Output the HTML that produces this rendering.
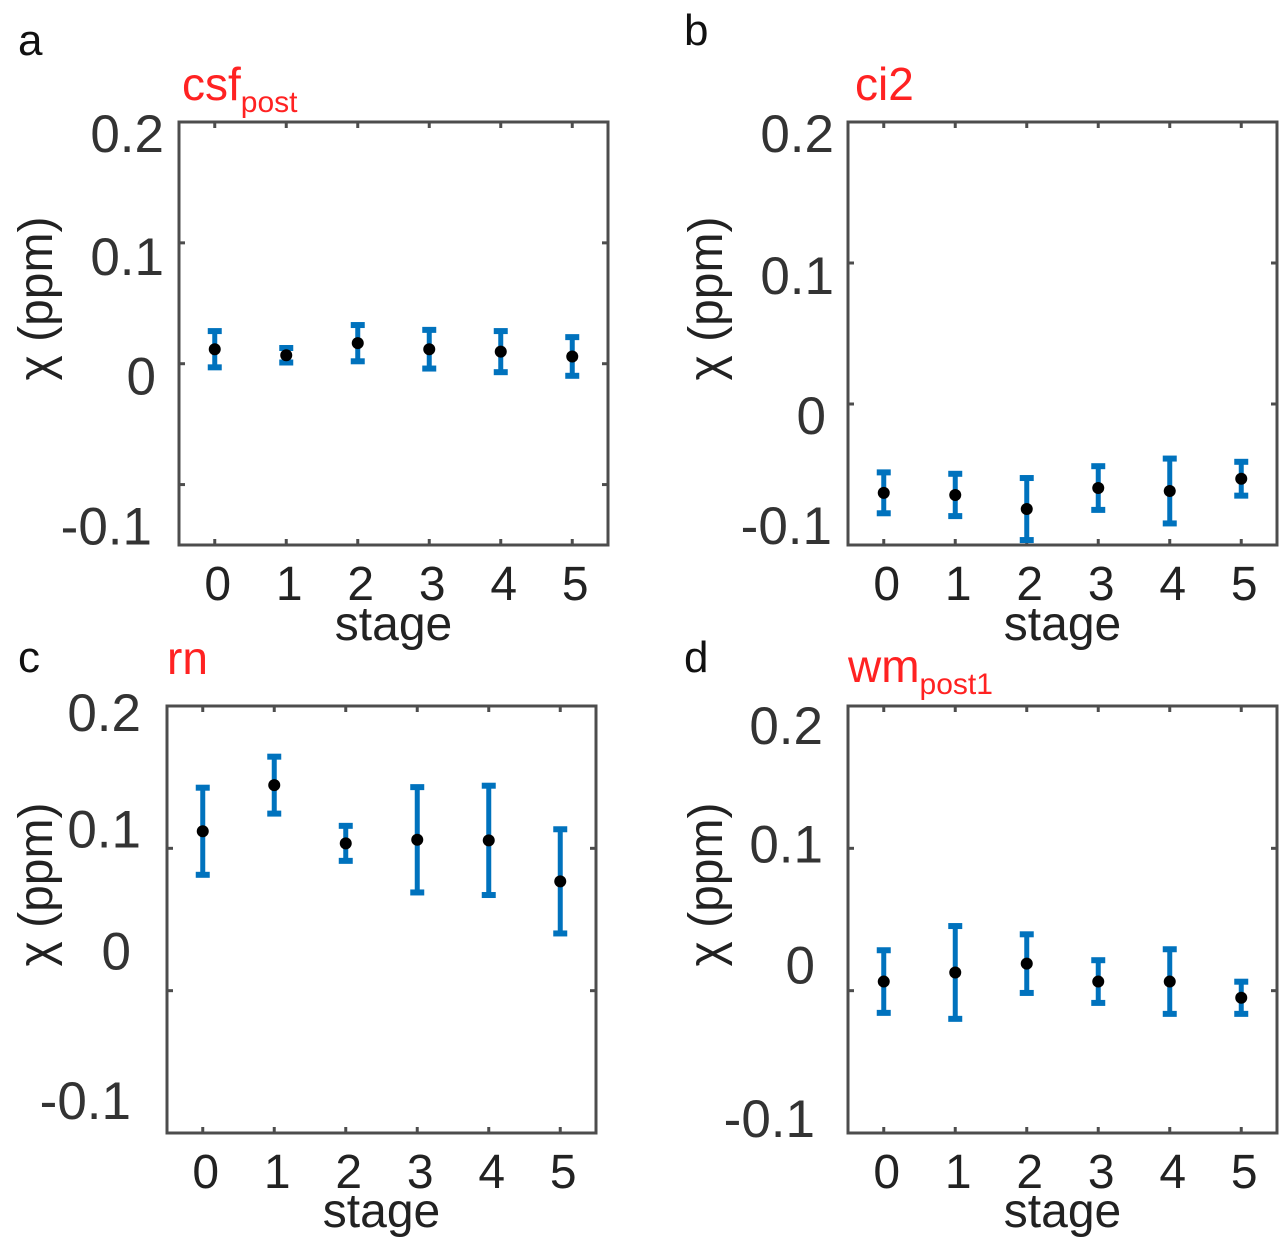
<!DOCTYPE html>
<html><head><meta charset="utf-8"><style>
html,body{margin:0;padding:0;background:#fff;width:1280px;height:1243px;overflow:hidden}
svg{font-family:"Liberation Sans",sans-serif}
</style></head><body>
<svg id="fig" width="1280" height="1243" viewBox="0 0 1280 1243"></svg>
<script>
const stages = [0,1,2,3,4,5];
const tickLabels = ["0.2","0.1","0","-0.1"];
const tickValues = [0.2,0.1,0,-0.1];
const meanA = [0.012,0.007,0.017,0.012,0.010,0.006];
const errA  = [0.015,0.006,0.015,0.016,0.017,0.016];
const meanB = [-0.063,-0.0645,-0.0745,-0.0596,-0.0617,-0.053];
const errB  = [0.0145,0.015,0.022,0.0155,0.023,0.012];
const meanC = [0.112,0.1444,0.1035,0.106,0.1056,0.0768];
const errC  = [0.0306,0.020,0.0123,0.037,0.0384,0.0366];
const meanD = [0.0064,0.0128,0.019,0.0064,0.0064,-0.005];
const errD  = [0.022,0.0326,0.0206,0.015,0.0227,0.0113];

const NS="http://www.w3.org/2000/svg";
const svg=document.getElementById('fig');
function mk(tag,attrs,parent){const e=document.createElementNS(NS,tag);for(const k in attrs)e.setAttribute(k,attrs[k]);(parent||svg).appendChild(e);return e;}

const panels=[
 {id:'a',letter:'a',lx:18,ly:55,title:'csf',sub:'post',tx:182,ty:100,x0:179,x1:608,y0:122,y1:545,ymin:-0.15,ymax:0.2,mean:meanA,err:errA,ylabX:38,lblX:164,lblDy:[11,13,12,41],lblDx:[0,0,-8,-12],stageY:640},
 {id:'b',letter:'b',lx:684,ly:45,title:'ci2',sub:'',tx:855,ty:100,x0:848,x1:1277,y0:122,y1:545,ymin:-0.1,ymax:0.2,mean:meanB,err:errB,ylabX:708,lblX:834,lblDy:[11,12,11,-20],lblDx:[0,0,-8,-2],stageY:640},
 {id:'c',letter:'c',lx:18,ly:672,title:'rn',sub:'',tx:167,ty:674,x0:167,x1:596,y0:706,y1:1133,ymin:-0.1,ymax:0.2,mean:meanC,err:errC,ylabX:38,lblX:141,lblDy:[6,-20,-40,-33],lblDx:[0,0,-10,-10],stageY:1227},
 {id:'d',letter:'d',lx:684,ly:672,title:'wm',sub:'post1',tx:848,ty:682,x0:848,x1:1277,y0:706,y1:1133,ymin:-0.1,ymax:0.2,mean:meanD,err:errD,ylabX:708,lblX:823,lblDy:[19,-5,-26,-15],lblDx:[0,0,-8,-8],stageY:1227}
];

panels.forEach(p=>{
 const g=mk('g',{});
 
 
 const xs=v=>p.x0+(v+0.5)/6*(p.x1-p.x0);
 const ys=v=>p.y1-(v-p.ymin)/(p.ymax-p.ymin)*(p.y1-p.y0);
 const L=mk('text',{x:p.lx,y:p.ly,'font-size':44,fill:'#111'},g);L.textContent=p.letter;
 
 const T=mk('text',{x:p.tx,y:p.ty,'font-size':46,fill:'#f22'},g);
 
 T.textContent=p.title;
 if(p.sub){const s=mk('tspan',{'font-size':30,dy:12},T);s.textContent=p.sub;}
 tickValues.forEach((v,i)=>{
  if(v<p.ymin-1e-9||v>p.ymax+1e-9)return;
  const y=ys(v);
  mk('line',{x1:p.x0,x2:p.x0+6,y1:y,y2:y,stroke:'#4d4d4d','stroke-width':3},g);
  mk('line',{x1:p.x1,x2:p.x1-6,y1:y,y2:y,stroke:'#4d4d4d','stroke-width':3},g);
  const t=mk('text',{x:p.lblX+p.lblDx[i],y:y+p.lblDy[i]+19,'font-size':53,fill:'#333','text-anchor':'end'},g);
  
  t.textContent=tickLabels[i];
 });
 stages.forEach(s=>{
  const x=xs(s);
  mk('line',{x1:x,x2:x,y1:p.y1,y2:p.y1-6,stroke:'#4d4d4d','stroke-width':3},g);
  mk('line',{x1:x,x2:x,y1:p.y0,y2:p.y0+6,stroke:'#4d4d4d','stroke-width':3},g);
  const t=mk('text',{x:x+3,y:p.y1+55,'font-size':48,fill:'#222','text-anchor':'middle'},g);
  
  t.textContent=String(s);
 });
 const box=mk('rect',{x:p.x0,y:p.y0,width:p.x1-p.x0,height:p.y1-p.y0,fill:'none',stroke:'#4d4d4d','stroke-width':3},g);
 
 const xl=mk('text',{x:(p.x0+p.x1)/2,y:p.stageY,'font-size':48,fill:'#222','text-anchor':'middle'},g);
 
 xl.textContent='stage';
 const cy=(p.y0+p.y1)/2-35;
 const yl=mk('text',{x:p.ylabX,y:cy,'font-size':48,fill:'#222','text-anchor':'middle',transform:`rotate(-90 ${p.ylabX} ${cy}) translate(0 14)`},g);
 
 yl.textContent='χ (ppm)';
 stages.forEach((s,i)=>{
  const x=xs(s),m=p.mean[i],e=p.err[i];
  const eg=mk('g',{},g);
  
  
  mk('line',{x1:x,x2:x,y1:ys(m-e),y2:ys(m+e),stroke:'#0072bd','stroke-width':5},eg);
  mk('line',{x1:x-7,x2:x+7,y1:ys(m-e),y2:ys(m-e),stroke:'#0072bd','stroke-width':6},eg);
  mk('line',{x1:x-7,x2:x+7,y1:ys(m+e),y2:ys(m+e),stroke:'#0072bd','stroke-width':6},eg);
  const c=mk('circle',{cx:x,cy:ys(m),r:6,fill:'#000'},g);
  
  
 });
});
</script>
</body></html>
